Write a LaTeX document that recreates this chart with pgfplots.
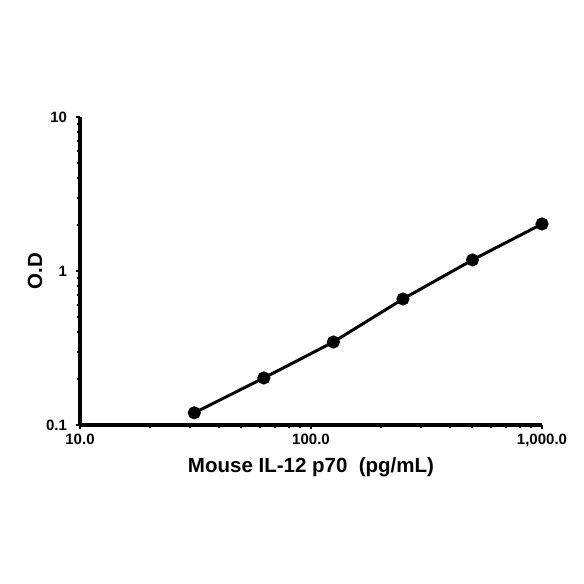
\documentclass[border=0pt]{standalone}
\usepackage{pgfplots}
\pgfplotsset{compat=1.18}
\usepackage{fontspec}
\setmainfont{Liberation Sans}
\begin{document}
\begin{tikzpicture}[x=1pt,y=1pt]
    % page frame, 584 x 584
    \path[use as bounding box] (0,0) rectangle (584,584);
    \begin{axis}[
            at={(80pt,159pt)}, anchor=south west,
            scale only axis,
            width=462pt, height=308pt,
            xmode=log, ymode=log,
            xmin=10, xmax=1000,
            ymin=0.1, ymax=10,
            axis x line=bottom, axis y line=left,
            axis line style={line width=3.4pt, -},
            tick align=outside,
            major tick length=4.5pt, minor tick length=3.5pt,
            tick style={black, line width=2pt},
            xtick={10,100,1000},
            xticklabels={10.0, 100.0, {1,000.0}},
            ytick={0.1,1,10},
            yticklabels={0.1, 1, 10},
            ticklabel style={font=\fontsize{15}{17}\selectfont\bfseries},
            xticklabel style={yshift=-1pt},
            yticklabel style={xshift=-5pt},
            xlabel={Mouse IL-12 p70\ \ (pg/mL)},
            ylabel={O.D},
            label style={font=\fontsize{20.5}{24}\selectfont\bfseries},
            xlabel style={yshift=-4pt},
            ylabel style={yshift=-3pt},
            clip=false,
        ]
        \addplot[black, line width=3pt, mark=*, mark size=5pt, mark options={solid}]
        coordinates {
            (31.25,0.12) (62.5,0.202) (125,0.346) (250,0.658) (500,1.18) (1000,2.02)
        };
    \end{axis}
\end{tikzpicture}
\end{document}
